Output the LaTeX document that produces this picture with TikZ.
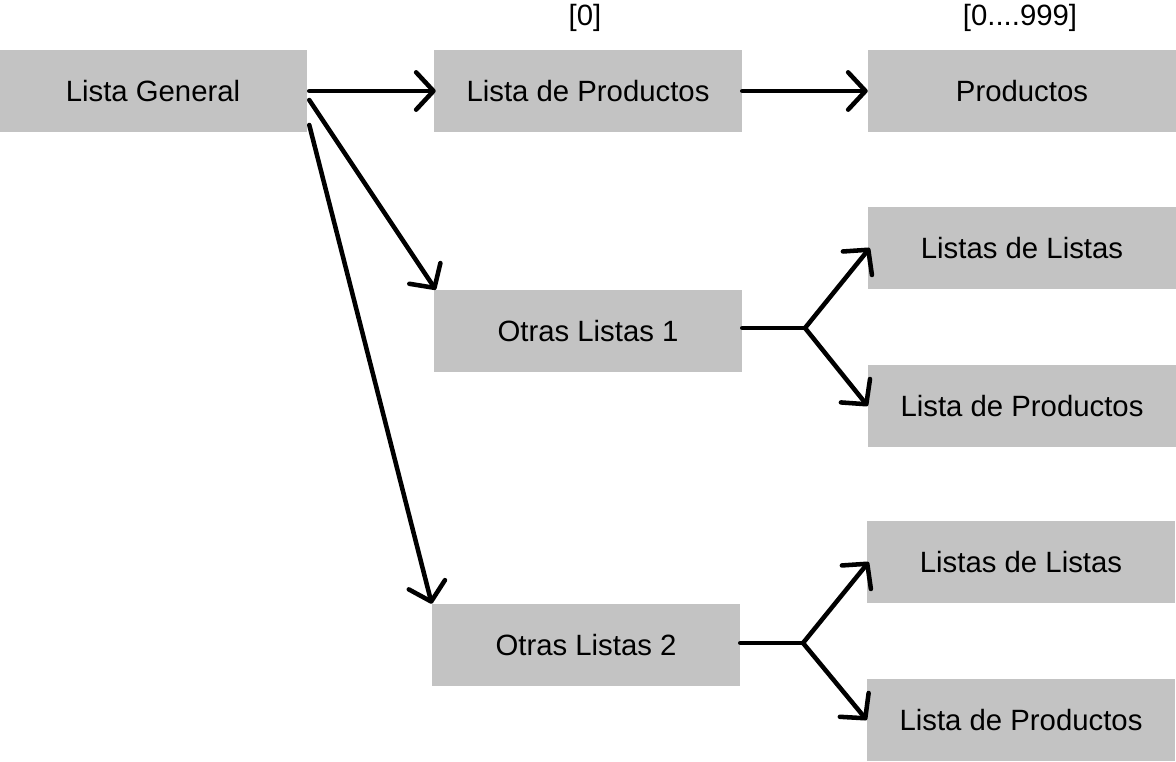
\documentclass[tikz,border=0pt]{standalone}
\usepackage{fontspec}
\setmainfont{Liberation Sans}
\usepackage{tikz}
\usetikzlibrary{arrows.meta, positioning, calc}
\definecolor{boxgray}{RGB}{195,195,195}

\begin{document}
\begin{tikzpicture}[
  x=0.75pt, y=-0.75pt,
  box/.style={rectangle, fill=boxgray, minimum width=231pt, minimum height=61.5pt,
              inner sep=0pt, font=\fontsize{22}{26}\selectfont},
  idx/.style={font=\fontsize{22}{26}\selectfont, inner sep=0pt},
  conn/.style={line width=3.4pt, line cap=round, line join=round,
               -{Straight Barb[length=13pt, width=28pt, line width=3.4pt, round]}},
  fork/.style={line width=3.4pt, line cap=round}
]
\useasboundingbox (0,0) rectangle (1176,762);

% top row
\node[box] (gen) at (153,91) {Lista General};
\node[box] (lp1) at (588,91) {Lista de Productos};
\node[box] (prod) at (1022,91) {Productos};
\node[idx] (i0) at (585,18) {[0]};
\node[idx] (i999) at (1020,18) {[0....999]};

% other lists
\node[box] (ol1) at (588,331) {Otras Listas 1};
\node[box] (ll1) at (1022,248) {Listas de Listas};
\node[box] (lp2) at (1022,406) {Lista de Productos};

\node[box] (ol2) at (586,645) {Otras Listas 2};
\node[box] (ll2) at (1021,562) {Listas de Listas};
\node[box] (lp3) at (1021,720) {Lista de Productos};

\coordinate (f1) at (805,328);
\coordinate (f2) at (803,643);

\draw[conn] ([xshift=1.5pt]gen.east) -- ([xshift=1.5pt]lp1.west);
\draw[conn] ([xshift=1.5pt,yshift=-6.75pt]gen.east) -- ([xshift=1.5pt]ol1.north west);
\draw[conn] ([xshift=1.5pt,yshift=-25.5pt]gen.east) -- (ol2.north west);
\draw[conn] (lp1.east) -- (prod.west);

\draw[fork] (ol1.east |- f1) -- (f1);
\draw[conn] (f1) -- ([xshift=1.5pt]ll1.west);
\draw[conn] (f1) -- (lp2.west);

\draw[fork] (ol2.east |- f2) -- (f2);
\draw[conn] (f2) -- ([xshift=1.5pt]ll2.west);
\draw[conn] (f2) -- (lp3.west);
\end{tikzpicture}
\end{document}
